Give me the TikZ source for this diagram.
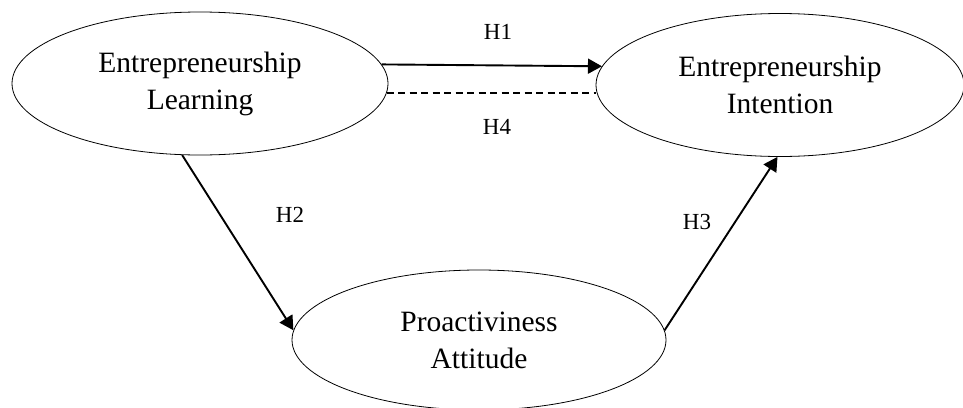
\documentclass[tikz,border=0pt]{standalone}
\usepackage{fontspec}
\setmainfont{Liberation Serif}
\usepackage{tikz}
\usetikzlibrary{arrows.meta}
\usetikzlibrary{shapes.geometric}
\tikzstyle{oval} = [ellipse, draw=black, line width=0.8pt, minimum width=376pt, minimum height=143pt, inner sep=0pt, align=center, font=\fontsize{29.5}{37}\selectfont]
\tikzstyle{arrow} = [line width=1.9pt, -{Triangle[length=14pt,width=15pt]}]
\tikzstyle{hlabel} = [font=\fontsize{23}{26}\selectfont]

\begin{document}
\begin{tikzpicture}[x=1pt,y=-1pt]
                        \useasboundingbox (0,0) rectangle (963,407);
                        \node[oval] (learn) at (200,83.5) {Entrepreneurship\\Learning};
                        \node[oval, minimum width=368pt] (intent) at (780,85) {Entrepreneurship\\Intention};
                        \node[oval, minimum width=374pt, minimum height=140pt] (proact) at (479,340) {Proactiviness\\Attitude};
                        \draw[arrow] (learn.6) -- (intent.174.3);
                        \draw[line width=1.9pt, dash pattern=on 7pt off 4.5pt] (learn.-3.6) -- (learn.-3.6 -| intent.west);
                        \draw[arrow] (learn.256.4) -- (proact.177.5);
                        \draw[arrow] (proact.3.7) -- (intent.268);
                        \node[hlabel] at (498,32) {H1};
                        \node[hlabel] at (497,127) {H4};
                        \node[hlabel] at (290,215) {H2};
                        \node[hlabel] at (697,222) {H3};
                    \end{tikzpicture}
\end{document}
